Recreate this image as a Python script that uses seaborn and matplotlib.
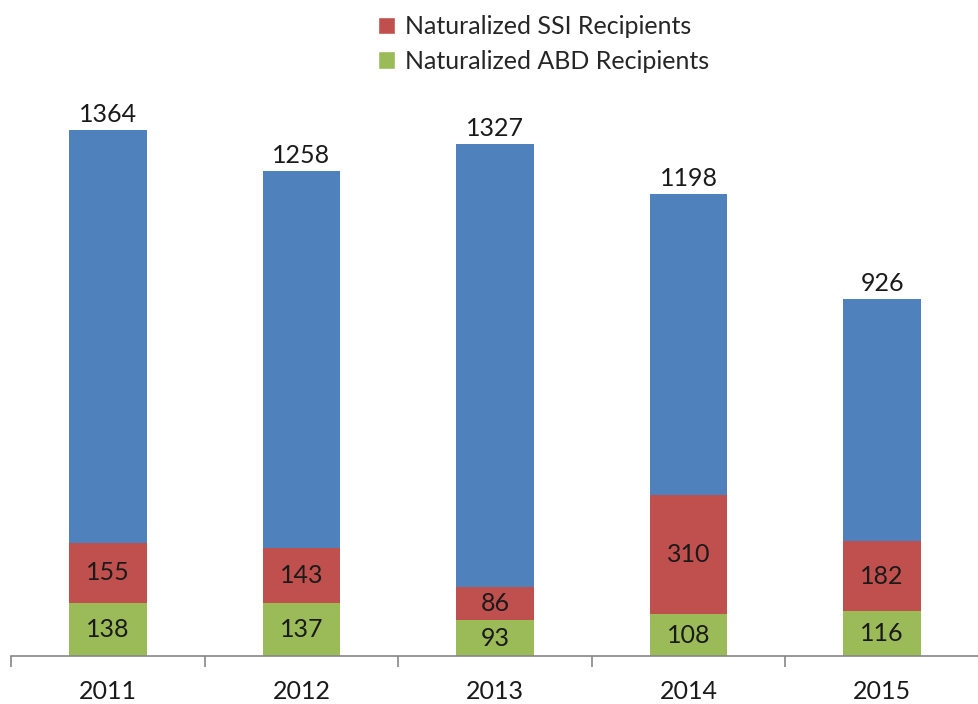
import numpy as np
import pandas as pd
import matplotlib
import matplotlib.pyplot as plt
import seaborn as sns
from matplotlib.patches import Patch

matplotlib.use("Agg")

years = ["2011", "2012", "2013", "2014", "2015"]
totals = [1364, 1258, 1327, 1198, 926]
ssi = [155, 143, 86, 310, 182]
abd = [138, 137, 93, 108, 116]

COLOR_TOTAL = "#4F81BD"
COLOR_SSI = "#C0504D"
COLOR_ABD = "#9BBB59"

sns.set_theme(style="white")
plt.rcParams["font.family"] = ["Lato", "DejaVu Sans"]

df = pd.DataFrame({"year": years, "total": totals, "ssi": ssi, "abd": abd})
df["ssi_top"] = df["abd"] + df["ssi"]

fig = plt.figure(figsize=(9.79, 7.04), dpi=100)
ax = fig.add_axes([11 / 979, 48 / 704, 968 / 979, 556 / 704])

bar_kw = dict(width=0.4, saturation=1, linewidth=0, ax=ax)
sns.barplot(data=df, x="year", y="total", color=COLOR_TOTAL, **bar_kw)
sns.barplot(data=df, x="year", y="ssi_top", color=COLOR_SSI, **bar_kw)
sns.barplot(data=df, x="year", y="abd", color=COLOR_ABD, **bar_kw)

fs = 18
for i, row in df.iterrows():
    ax.annotate(str(row["total"]), (i, row["total"]), xytext=(0, 3),
                textcoords="offset points", ha="center", va="bottom",
                fontsize=fs, color="#1a1a1a")
    ax.text(i, row["abd"] + row["ssi"] / 2, str(row["ssi"]), ha="center",
            va="center", fontsize=fs, color="#1a1a1a")
    ax.text(i, row["abd"] / 2, str(row["abd"]), ha="center", va="center",
            fontsize=fs, color="#1a1a1a")

ax.set_xlim(-0.5, 4.5)
ax.set_ylim(0, 1442)
ax.set_xlabel("")
ax.set_ylabel("")
ax.set_yticks([])
for side in ["top", "right", "left"]:
    ax.spines[side].set_visible(False)
ax.spines["bottom"].set_color("#868686")
ax.spines["bottom"].set_linewidth(1.2)

ax.set_xticks(np.arange(-0.5, 5.0, 1.0), minor=True)
ax.tick_params(axis="x", which="minor", bottom=True, length=8, width=1.2,
               color="#868686", direction="out")
ax.tick_params(axis="x", which="major", bottom=False, length=0, pad=17,
               labelsize=fs, labelcolor="#1a1a1a")

handles = [
    Patch(facecolor=COLOR_SSI, label="Naturalized SSI Recipients"),
    Patch(facecolor=COLOR_ABD, label="Naturalized ABD Recipients"),
]
fig.legend(handles=handles, loc="upper center", bbox_to_anchor=(0.555, 1.01),
           frameon=False, fontsize=fs, handlelength=0.7, handleheight=0.7,
           handletextpad=0.4, labelspacing=0.45)

fig.savefig("out.png", dpi=100)
